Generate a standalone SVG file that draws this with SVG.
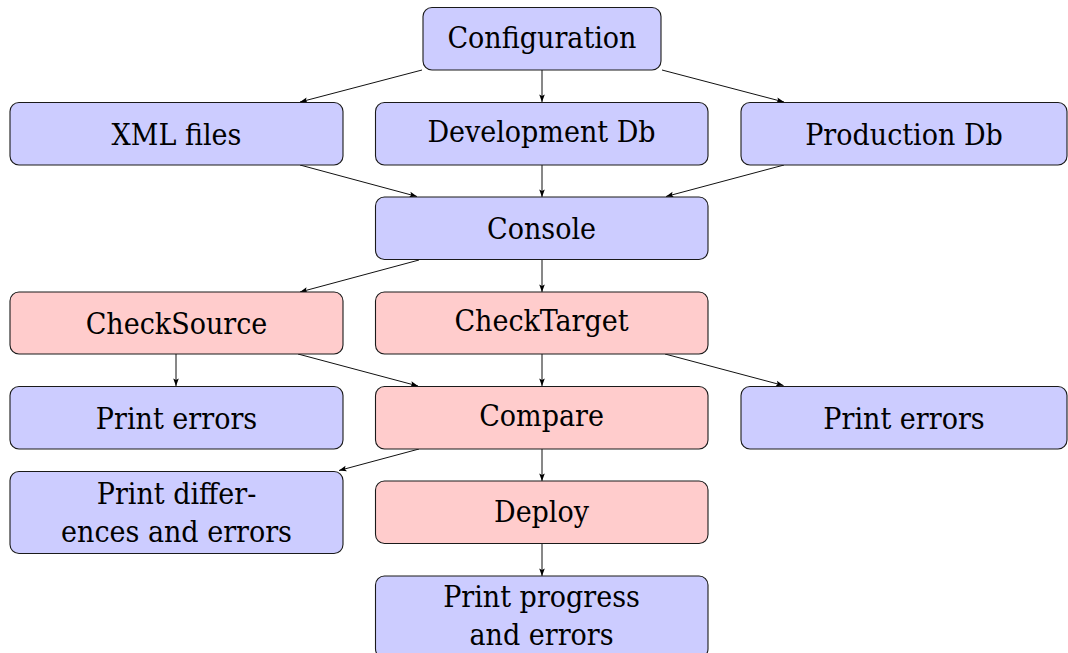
<svg xmlns="http://www.w3.org/2000/svg" width="1068" height="653" viewBox="0 0 1068 653">
  <defs>
    <marker id="tip" viewBox="-8 -4 9 8" refX="0" refY="0" markerWidth="9" markerHeight="8" markerUnits="userSpaceOnUse" orient="auto">
      <path d="M0,0 L-7.5,-2.8 L-6,0 L-7.5,2.8 Z" fill="#000"/>
    </marker>
    <style>
      .box rect { stroke: #1a1a1a; stroke-width: 1.1; }
      .blue rect { fill: #ccccff; }
      .red rect { fill: #ffcccc; }
      .box text { font-family: "DejaVu Serif Condensed", "DejaVu Serif", serif; font-stretch: condensed; font-size: 30px; fill: #000; text-anchor: middle; }
      #edges line { stroke: #111; stroke-width: 1; fill: none; marker-end: url(#tip); }
    </style>
  </defs>
  <rect width="1068" height="653" fill="#fff"/>

  <g id="edges">
    <line x1="422" y1="70" x2="300" y2="102"/>
    <line x1="542" y1="70" x2="542" y2="102"/>
    <line x1="662" y1="70" x2="784" y2="102"/>
    <line x1="300" y1="165" x2="417" y2="196.5"/>
    <line x1="542" y1="165" x2="542" y2="197"/>
    <line x1="784" y1="165" x2="666" y2="196.5"/>
    <line x1="419" y1="260" x2="300" y2="292"/>
    <line x1="542" y1="260" x2="542" y2="292"/>
    <line x1="176" y1="354" x2="176" y2="386"/>
    <line x1="298" y1="354" x2="418" y2="386"/>
    <line x1="542" y1="354" x2="542" y2="386"/>
    <line x1="665" y1="354" x2="783.5" y2="385.5"/>
    <line x1="419" y1="449" x2="339" y2="470.5"/>
    <line x1="542" y1="449" x2="542" y2="481"/>
    <line x1="542" y1="543" x2="542" y2="576"/>
  </g>

  <g id="configuration" class="box blue">
    <rect x="423" y="7.5" width="238" height="62.5" rx="9"/>
    <text x="542" y="48">Configuration</text>
  </g>
  <g id="xml-files" class="box blue">
    <rect x="10" y="102.5" width="333" height="62.5" rx="9"/>
    <text x="176.5" y="145">XML files</text>
  </g>
  <g id="development-db" class="box blue">
    <rect x="375.5" y="102.5" width="332.5" height="62.5" rx="9"/>
    <text x="541.5" y="141.7">Development Db</text>
  </g>
  <g id="production-db" class="box blue">
    <rect x="741" y="102.5" width="326" height="62.5" rx="9"/>
    <text x="904" y="145">Production Db</text>
  </g>
  <g id="console" class="box blue">
    <rect x="375.5" y="197" width="332.5" height="62.5" rx="9"/>
    <text x="541.5" y="239">Console</text>
  </g>
  <g id="check-source" class="box red">
    <rect x="10" y="292" width="333" height="62" rx="9"/>
    <text x="176.5" y="334.3">CheckSource</text>
  </g>
  <g id="check-target" class="box red">
    <rect x="375.5" y="292" width="332.5" height="62" rx="9"/>
    <text x="541.5" y="331">CheckTarget</text>
  </g>
  <g id="print-errors-source" class="box blue">
    <rect x="10" y="386.5" width="333" height="62.5" rx="9"/>
    <text x="176.5" y="429">Print errors</text>
  </g>
  <g id="compare" class="box red">
    <rect x="375.5" y="386.5" width="332.5" height="62.5" rx="9"/>
    <text x="541.5" y="425.7">Compare</text>
  </g>
  <g id="print-errors-target" class="box blue">
    <rect x="741" y="386.5" width="326" height="62.5" rx="9"/>
    <text x="904" y="429">Print errors</text>
  </g>
  <g id="print-differences" class="box blue">
    <rect x="10" y="471.5" width="333" height="82" rx="9"/>
    <text x="176.5" y="504">Print differ-</text>
    <text x="176.5" y="541.7">ences and errors</text>
  </g>
  <g id="deploy" class="box red">
    <rect x="375.5" y="481" width="332.5" height="62.5" rx="9"/>
    <text x="541.5" y="521.5">Deploy</text>
  </g>
  <g id="print-progress" class="box blue">
    <rect x="375.5" y="576" width="332.5" height="82" rx="9"/>
    <text x="541.5" y="607.3">Print progress</text>
    <text x="541.5" y="645">and errors</text>
  </g>
</svg>
